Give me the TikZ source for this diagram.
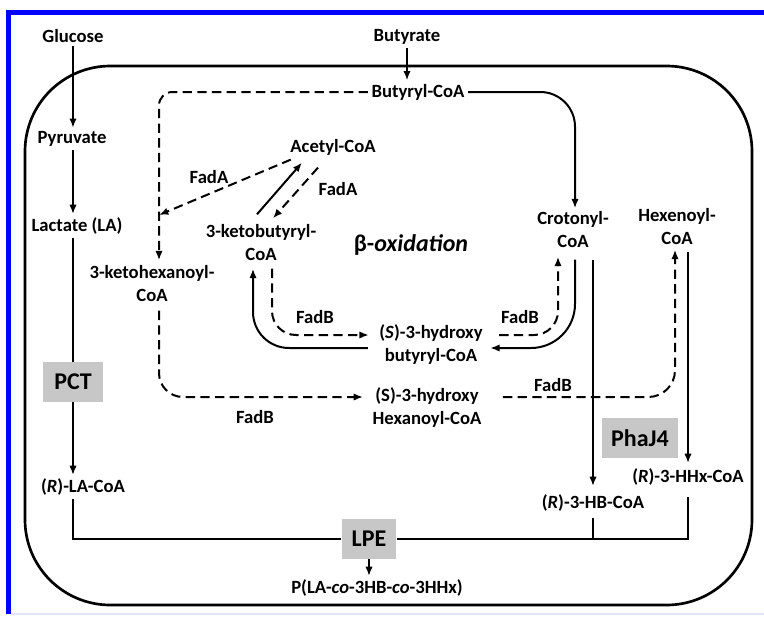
\documentclass[tikz,border=0pt]{standalone}
\usepackage{fontspec}
\setmainfont{Carlito}
\usetikzlibrary{arrows.meta,calc}
\definecolor{boxgray}{RGB}{199,199,199}
\definecolor{frameblue}{RGB}{0,0,255}
\definecolor{palerule}{RGB}{228,228,246}
\begin{document}
\begin{tikzpicture}[x=0.75pt,y=-0.75pt,
  lbl/.style={font=\fontsize{14}{17.25}\selectfont\bfseries, align=center, inner sep=2.5pt},
  enz/.style={font=\fontsize{18}{20}\selectfont\bfseries, fill=boxgray, inner sep=0pt,
              minimum height=30pt},
  ln/.style={line width=1.5pt},
  arr/.style={ln, -{Latex[length=7pt,width=5.5pt]}},
  darr/.style={arr, dash pattern=on 7pt off 4pt},
  dln/.style={ln, dash pattern=on 7pt off 4pt}]
\useasboundingbox (0,0) rectangle (764,618);
\fill[white] (0,0) rectangle (764,618);

% page frame
\fill[frameblue] (6,10) rectangle (764,15);
\fill[frameblue] (6,10) rectangle (11,614);
\fill[palerule] (11,613) rectangle (764,615);

% cell envelope
\draw[line width=2pt, rounded corners=64pt] (25,66) rectangle (752,605);

% lanes
\coordinate (xL) at (73,0);
\coordinate (xK) at (159,0);
\coordinate (xC1) at (558,0);
\coordinate (xC2) at (575,0);
\coordinate (xC3) at (593,0);
\coordinate (xH1) at (675,0);
\coordinate (xH2) at (688,0);

% metabolites
\node[lbl] (glucose)  at (73,36)   {Glucose};
\node[lbl] (butyrate) at (407,37)  {Butyrate};
\node[lbl] (butcoa)   at (418,92)  {Butyryl-CoA};
\node[lbl] (pyruvate) at (72,139)  {Pyruvate};
\node[lbl] (lactate)  at (77,226)  {Lactate (LA)};
\node[lbl] (acetyl)   at (333,147) {Acetyl-CoA};
\node[lbl] (fadA1)    at (209,177) {FadA};
\node[lbl] (fadA2)    at (338,189) {FadA};
\node[lbl] (ketobut)  at (261,243) {3-ketobutyryl-\\CoA};
\node[lbl] (ketohex)  at (152,284) {3-ketohexanoyl-\\CoA};
\node[lbl, font=\fontsize{18}{20}\selectfont\bfseries] (beta) at (411,245) {β-\textit{oxidation}};
\node[lbl] (crotonyl) at (573,230) {Crotonyl-\\CoA};
\node[lbl] (hexenoyl) at (677,227) {Hexenoyl-\\CoA};
\node[lbl] (fadB1)    at (315,317) {FadB};
\node[lbl] (fadB2)    at (520,317) {FadB};
\node[lbl] (hbS)      at (431,345) {(\textit{S})-3-hydroxy\\butyryl-CoA};
\node[lbl] (hhxS)     at (427,408) {(S)-3-hydroxy\\Hexanoyl-CoA};
\node[lbl] (fadB3)    at (553,385) {FadB};
\node[lbl] (fadB4)    at (255,417) {FadB};
\node[lbl] (lacoa)    at (83,487)  {(\textit{R})-LA-CoA};
\node[lbl] (hbR)      at (593,503) {(\textit{R})-3-HB-CoA};
\node[lbl] (hhxR)     at (688,477) {(\textit{R})-3-HHx-CoA};
\node[lbl] (product)  at (377,588) {P(LA-\textit{co}-3HB-\textit{co}-3HHx)};

% enzymes
\node[enz, minimum width=45pt] (pct)   at (73,382)  {PCT};
\node[enz, minimum width=57pt] (phaj4) at (640,438) {PhaJ4};
\node[enz, minimum width=41pt] (lpe)   at (369,539) {LPE};

% glycolysis branch
\draw[arr] (glucose.south -| xL) -- (pyruvate.north -| xL);
\draw[arr] (pyruvate.south -| xL) -- (lactate.north -| xL);
\draw[ln]  (lactate.south -| xL) -- (pct.north);
\draw[arr] (pct.south) -- (lacoa.north -| xL);

% butyrate uptake
\draw[arr] (butyrate.south) -- (butyrate.south |- butcoa.north);
\draw[arr, rounded corners=26pt] (butcoa.east) -| (crotonyl.north -| xC2);
\draw[darr, rounded corners=10pt] (butcoa.west) -| ($(ketohex.north -| xK)+(0,-2)$);

% thiolase steps
\coordinate (fadAtip) at (159,215);
\draw[darr] ($(acetyl.south west)+(4,1)$) -- (fadAtip);
\draw[arr]  ($(ketobut.north)+(-4,-7)$) -- ($(acetyl.south)+(-31,4)$);
\draw[darr] ($(acetyl.south)+(-15,9)$) -- ($(ketobut.north)+(12,-3)$);

% C4 cycle
\draw[darr, rounded corners=18pt] ($(ketobut.south)+(11,4)$) |- ($(hbS.west)+(-7,-10)$);
\draw[arr, rounded corners=27pt]  ($(hbS.west)+(-8,3)$) -| ($(ketobut.south)+(-8,4)$);
\draw[darr, rounded corners=18pt] ($(hbS.east)+(13,-10)$) -| ($(crotonyl.south -| xC1)+(0,5)$);
\draw[arr, rounded corners=33pt]  ($(crotonyl.south -| xC2)+(0,8)$) |- ($(hbS.east)+(4,3)$);
\draw[arr] ($(crotonyl.south -| xC3)+(0,8)$) -- ($(hbR.north -| xC3)+(0,-5)$);

% C6 branch
\draw[darr, rounded corners=18pt] ($(ketohex.south -| xK)+(0,5)$) |- ($(hhxS.west)+(-6,-11)$);
\draw[darr, rounded corners=20pt] ($(hhxS.east)+(18,-11)$) -| ($(hexenoyl.south -| xH1)+(0,1)$);
\draw[arr] ($(hexenoyl.south -| xH2)+(0,3)$) -- ($(hhxR.north -| xH2)+(0,-2)$);

% polymerisation
\draw[ln] (lacoa.south -| xL) |- (lpe.west);
\draw[ln] ($(hhxR.south)+(0,8)$) |- (lpe.east);
\draw[ln] ($(hbR.south -| xC3)+(0,3)$) -- (lpe.east -| xC3);
\draw[arr] (lpe.south) -- (lpe.south |- product.north);
\end{tikzpicture}
\end{document}
